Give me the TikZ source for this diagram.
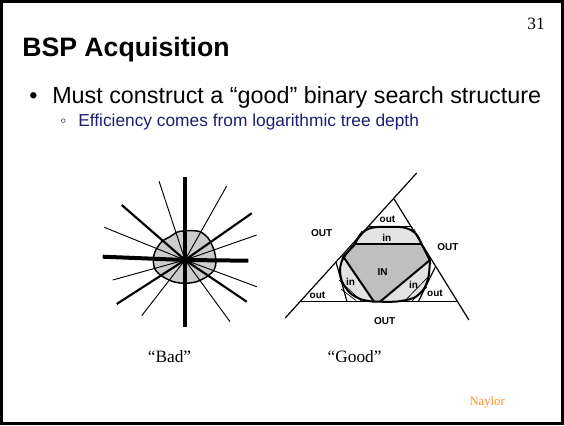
\documentclass[tikz,border=0pt]{standalone}
\usepackage{fontspec}
\setmainfont{Liberation Serif}
\setsansfont{Liberation Sans}
\usetikzlibrary{positioning}

\definecolor{subblue}{RGB}{30,30,115}
\definecolor{naylorcol}{RGB}{255,140,30}

\tikzstyle{frame} = [draw=black, line width=1.6pt]
\tikzstyle{title} = [anchor=base west, inner sep=0pt, font=\sffamily\bfseries\fontsize{20}{24}\selectfont]
\tikzstyle{bultext} = [anchor=base west, inner sep=0pt, font=\sffamily\fontsize{17.5}{21}\selectfont]
\tikzstyle{subtext} = [anchor=base west, inner sep=0pt, text=subblue, font=\sffamily\fontsize{13}{16}\selectfont]
\tikzstyle{serif} = [inner sep=0pt, font=\fontsize{13}{16}\selectfont]
\tikzstyle{region} = [inner sep=0pt, font=\sffamily\bfseries\fontsize{7.5}{9}\selectfont]
\tikzstyle{thickray} = [line width=3pt]
\tikzstyle{midray} = [line width=1.6pt]
\tikzstyle{thinray} = [line width=0.7pt]
\tikzstyle{blob} = [draw=black, line width=1.1pt, fill=gray!40]
\tikzstyle{side} = [line width=0.9pt]
\tikzstyle{chord} = [line width=1.5pt]
\tikzstyle{facet} = [line width=0.5pt]

\begin{document}
\begin{tikzpicture}[x=0.75pt, y=-0.75pt]
\useasboundingbox (0,0) rectangle (564,425);
\draw [frame] (1.5,1.5) rectangle (562.5,423.5);

% Slide text
\node (pagenum) [serif, anchor=base east] at (545,29) {31};
\node (title) [title] at (22,56) {BSP Acquisition};
\node (bul1) [bultext] at (29,103) {•};
\node (txt1) [bultext] at (52,103) {Must construct a “good” binary search structure};
\node (bul2) [subtext] at (60,126.5) {◦};
\node (txt2) [subtext] at (78,126.5) {Efficiency comes from logarithmic tree depth};

% Bad
\coordinate (bc) at (185,260);
\draw [blob] plot [smooth cycle] coordinates {(170,236.7) (178.3,231.7) (190,230.7) (200,231.7) (208.3,238.3) (214,250) (216,261.7) (214,270) (206.7,276.7) (196.7,281.7) (185,283.3) (173.3,281.7) (161.7,276) (155,269.3) (153.3,260) (155,251.7) (161.7,241.7)};
\draw [thinray] (bc) -- (159,181);
\draw [thinray] (bc) -- (104.3,227.3);
\draw [thinray] (bc) -- (226.7,186);
\draw [thinray] (bc) -- (256.7,235);
\draw [thinray] (bc) -- (112.7,280);
\draw [thinray] (bc) -- (141.7,315.7);
\draw [thinray] (bc) -- (230,321.7);
\draw [thinray] (bc) -- (256.7,286.7);
\draw [midray] (bc) -- (121.7,205);
\draw [midray] (bc) -- (251.7,213.3);
\draw [midray] (bc) -- (116.7,304);
\draw [midray] (bc) -- (246.7,301.7);
\draw [thickray] (bc) -- (102.7,256.7);
\draw [thickray] (bc) -- (248.3,260.7);
\draw [thickray] (bc) -- (185,176.7);
\draw [thickray] (bc) -- (185,326.7);

% Good
\coordinate (apex) at (394,199);
\coordinate (bl) at (300,301.7);
\coordinate (br) at (457.7,301.7);
\coordinate (ltop) at (416.7,173);
\coordinate (lbot) at (285.2,318);
\coordinate (rbot) at (468.9,320);

\fill [gray!22] (355,244.3) -- plot [smooth] coordinates {(355,244.3) (360,235) (368,229) (378,227) (400,227) (410,229.5) (417,235) (421.7,244.3)} -- (430,260) -- plot [smooth] coordinates {(430,260) (428.5,277) (423.5,289.5) (413.5,298) (397,301.5) (380,301.7)} -- (374,301.7) -- plot [smooth] coordinates {(374,301.7) (361.5,299.5) (350,293) (342,281.5) (340,268.5) (343.3,256.7)} -- cycle;
\fill [gray!50] (355,244.3) -- (421.7,244.3) -- (430,260) -- (380,301.7) -- (374,301.7) -- (343.3,256.7) -- cycle;

\draw [side] (lbot) -- (ltop);
\draw [side] (apex) -- (rbot);
\draw [side] (bl) -- (br);
\draw [side] (368,226.7) -- (411.7,226.7);
\draw [side] (336,262) -- (347,301.7);
\draw [side] (435.8,266) -- (418.3,301.7);

\draw [facet] (343.3,256.7) -- (368,227.5);
\draw [facet] (341,263) -- (362,231);
\draw [facet] (430,260) -- (411.7,227.2);
\draw [facet] (431,264) -- (414,229);
\draw [facet] (339,280) -- (362,301.7);
\draw [facet] (341,289) -- (356,300.5);
\draw [facet] (430,275) -- (404,301.7);
\draw [facet] (427,287) -- (412,301);

\draw [chord] (355,244.3) -- plot [smooth] coordinates {(355,244.3) (360,235) (368,229) (378,227) (400,227) (410,229.5) (417,235) (421.7,244.3)} -- (430,260) -- plot [smooth] coordinates {(430,260) (428.5,277) (423.5,289.5) (413.5,298) (397,301.5) (380,301.7)} -- (374,301.7) -- plot [smooth] coordinates {(374,301.7) (361.5,299.5) (350,293) (342,281.5) (340,268.5) (343.3,256.7)} -- cycle;
\draw [chord] (355,244.3) -- (421.7,244.3);
\draw [chord] (343.3,256.7) -- (374,301.7);
\draw [chord] (430,260) -- (380,301.7);

\node (out_l) [region] at (321.7,233.3) {OUT};
\node (out_r) [region] at (448,246.7) {OUT};
\node (out_b) [region] at (384.7,320.8) {OUT};
\node (out_t) [region] at (387.5,219.5) {out};
\node (out_bl) [region] at (317.5,295) {out};
\node (out_br) [region] at (435,293.7) {out};
\node (in_t) [region] at (386.7,238) {in};
\node (in_c) [region] at (382.5,271.7) {IN};
\node (in_l) [region] at (350.5,281.7) {in};
\node (in_r) [region] at (413.5,285) {in};

% Captions
\node (badlbl) [serif] at (169.5,357) {“Bad”};
\node (goodlbl) [serif, right=102pt of badlbl] {“Good”};
\node (author) [inner sep=0pt, anchor=base east, text=naylorcol, font=\fontsize{9.5}{11}\selectfont] at (505,405) {Naylor};
\end{tikzpicture}
\end{document}
